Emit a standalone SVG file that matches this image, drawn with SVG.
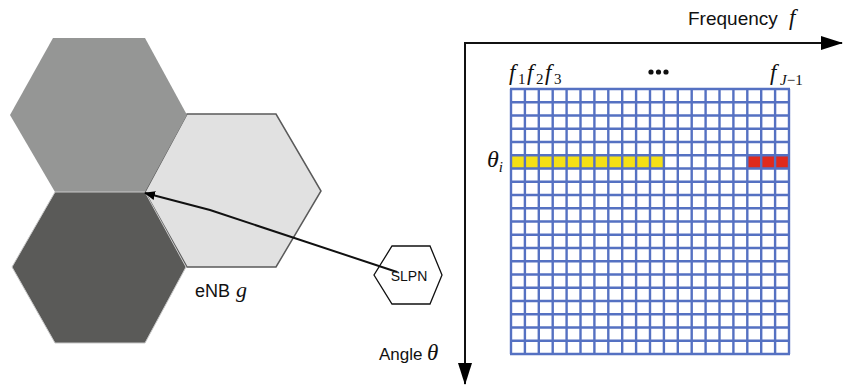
<svg xmlns="http://www.w3.org/2000/svg" width="846" height="387" viewBox="0 0 846 387">
<style>
.lbl{font-family:"Liberation Sans","Open Sans",sans-serif;fill:#111}
.math{font-family:"Liberation Serif","DejaVu Serif",serif;font-style:italic;fill:#111}
.sub{font-family:"Liberation Serif","DejaVu Serif",serif;font-style:normal;fill:#111}
.grid{stroke:#5571c2;stroke-width:2.4;fill:none}
</style>
<defs>
<marker id="ah" markerWidth="11" markerHeight="9" refX="10" refY="4.5" orient="auto" markerUnits="userSpaceOnUse">
<path d="M0,0 L11,4.5 L0,9 z" fill="#000"/>
</marker>
<marker id="axh" markerWidth="22" markerHeight="14" refX="21" refY="7" orient="auto" markerUnits="userSpaceOnUse">
<path d="M0,0 L22,7 L0,14 z" fill="#000"/>
</marker>
</defs>
<rect width="846" height="387" fill="#fff"/>

<g id="cell-right">
<polygon points="187,114 276,114 321,191 276,267 187,267 145,192" fill="#e1e1e1" stroke="#5a5a5a" stroke-width="1.5"/>
</g>
<g id="cell-top">
<polygon points="53,38 145,38 187,115 145,192 55,192 10,115" fill="#959695"/>
</g>
<g id="cell-bottom">
<polygon points="55,192 145,192 186,267 145,343 55,343 12,267" fill="#5a5a58" stroke="#c8c8c8" stroke-width="1"/>
</g>
<g id="enb-label">
<text class="lbl" x="195" y="297" font-size="18">eNB</text>
<text class="math" x="236" y="297" font-size="22">g</text>
</g>
<g id="slpn">
<polygon points="392,246 430,246 442,275 430,304 392,304 374,275" fill="#fff" stroke="#111" stroke-width="1.3"/>
<text class="lbl" x="409" y="281" font-size="14" text-anchor="middle">SLPN</text>
</g>

<g id="connectors">
<polyline points="397,272 210,210 145,193" fill="none" stroke="#111" stroke-width="2" marker-end="url(#ah)"/>
<line x1="464" y1="43" x2="842" y2="43" stroke="#111" stroke-width="2" marker-end="url(#axh)"/>
<line x1="465" y1="42" x2="465" y2="384" stroke="#111" stroke-width="2" marker-end="url(#axh)"/>
</g>

<g id="axis-labels">
<text class="lbl" x="688" y="25" font-size="19">Frequency</text>
<text class="math" x="789" y="25" font-size="23">f</text>
<text class="lbl" x="379" y="360" font-size="17">Angle</text>
<text class="math" x="427" y="360" font-size="23">θ</text>
</g>

<g id="grid">
<g id="highlight">
<rect x="511" y="155.25" width="152.9" height="13.25" fill="#f5e015"/>
<rect x="747.3" y="155.25" width="41.7" height="13.25" fill="#e02a1c"/>
</g>
<path class="grid" d="M511,89V354M524.9,89V354M538.8,89V354M552.7,89V354M566.6,89V354M580.5,89V354M594.4,89V354M608.3,89V354M622.2,89V354M636.1,89V354M650,89V354M663.9,89V354M677.8,89V354M691.7,89V354M705.6,89V354M719.5,89V354M733.4,89V354M747.3,89V354M761.2,89V354M775.1,89V354M789,89V354
M510,89H790M510,102.25H790M510,115.5H790M510,128.75H790M510,142H790M510,155.25H790M510,168.5H790M510,181.75H790M510,195H790M510,208.25H790M510,221.5H790M510,234.75H790M510,248H790M510,261.25H790M510,274.5H790M510,287.75H790M510,301H790M510,314.25H790M510,327.5H790M510,340.75H790M510,354H790"/>
</g>

<g id="grid-labels">
<text class="math" font-size="23" y="80"><tspan x="509">f</tspan><tspan class="sub" x="518" y="84" font-size="15">1</tspan><tspan x="527" y="80">f</tspan><tspan class="sub" x="536" y="84" font-size="15">2</tspan><tspan x="545" y="80">f</tspan><tspan class="sub" x="554" y="84" font-size="15">3</tspan></text>
<circle cx="651" cy="72" r="2.6" fill="#111"/>
<circle cx="658.5" cy="72" r="2.6" fill="#111"/>
<circle cx="666" cy="72" r="2.6" fill="#111"/>
<text class="math" font-size="23" y="80"><tspan x="770">f</tspan><tspan x="780" y="85" font-size="15">J</tspan><tspan class="sub" font-size="15">−1</tspan></text>
<text class="math" x="487" y="167" font-size="24">θ<tspan font-size="15" dy="5">i</tspan></text>
</g>
</svg>
